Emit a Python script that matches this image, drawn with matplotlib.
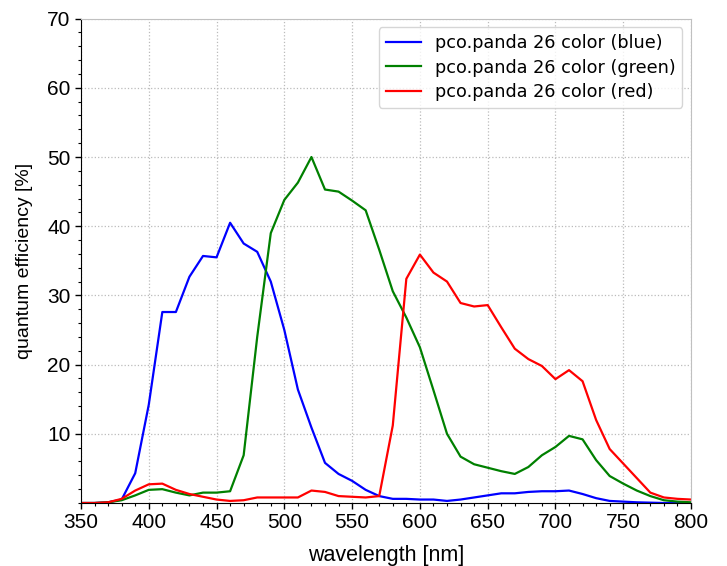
import numpy as np
import matplotlib
matplotlib.use("Agg")
import matplotlib.pyplot as plt
from matplotlib.ticker import MultipleLocator

# wavelength grid, 10 nm steps
wavelength = list(range(350, 801, 10))

# quantum efficiency [%]
qe_blue = [0, 0, 0.1, 0.5, 4.3, 14.2, 27.6, 27.6, 32.7, 35.7, 35.5, 40.5,
           37.5, 36.3, 32.0, 25.0, 16.4, 10.9, 5.8, 4.2, 3.2, 1.9, 1.0, 0.6,
           0.6, 0.5, 0.5, 0.3, 0.5, 0.8, 1.1, 1.4, 1.4, 1.6, 1.7, 1.7,
           1.8, 1.3, 0.7, 0.3, 0.2, 0.1, 0.05, 0, 0, 0]
qe_green = [0, 0, 0.1, 0.4, 1.1, 1.9, 2.0, 1.5, 1.1, 1.5, 1.5, 1.7,
            6.9, 24.0, 39.0, 43.8, 46.3, 50.0, 45.3, 45.0, 43.7, 42.3, 36.6, 30.6,
            26.8, 22.5, 16.3, 10.0, 6.7, 5.6, 5.1, 4.6, 4.2, 5.2, 6.9, 8.1,
            9.7, 9.2, 6.2, 3.9, 2.8, 1.8, 1.0, 0.4, 0.2, 0.1]
qe_red = [0, 0, 0.1, 0.6, 1.8, 2.7, 2.8, 1.9, 1.3, 0.9, 0.5, 0.3,
          0.4, 0.8, 0.8, 0.8, 0.8, 1.8, 1.6, 1.0, 0.9, 0.8, 1.0, 11.2,
          32.4, 35.9, 33.3, 32.0, 28.9, 28.4, 28.6, 25.4, 22.3, 20.8, 19.8, 17.9,
          19.2, 17.6, 12.0, 7.8, 5.7, 3.6, 1.5, 0.8, 0.6, 0.5]

labels = ["pco.panda 26 color (blue)", "pco.panda 26 color (green)", "pco.panda 26 color (red)"]

plt.rcParams['font.family'] = ['Liberation Sans', 'DejaVu Sans']

fig = plt.figure(figsize=(7.27, 5.66), dpi=100)
ax = fig.add_axes([0.1114, 0.1113, 0.8391, 0.8558])

ax.plot(wavelength, qe_blue, color="blue", lw=1.6, label=labels[0])
ax.plot(wavelength, qe_green, color="green", lw=1.6, label=labels[1])
ax.plot(wavelength, qe_red, color="red", lw=1.6, label=labels[2])

ax.set_xlim(350, 800)
ax.set_ylim(0, 70)
ax.set_xticks(range(350, 801, 50))
ax.set_yticks(range(10, 71, 10))
ax.xaxis.set_minor_locator(MultipleLocator(10))
ax.yaxis.set_minor_locator(MultipleLocator(2))
ax.tick_params(axis="both", which="major", labelsize=15, length=4, width=1)
ax.tick_params(axis="both", which="minor", length=2, width=0.8)

ax.grid(True, which="major", color="#bbbbbb", linestyle=":", linewidth=0.9)
for s in ["top", "right"]:
    ax.spines[s].set_color("#c0c0c0")
for s in ["left", "bottom"]:
    ax.spines[s].set_color("black")

ax.set_xlabel("wavelength [nm]", fontsize=15.5, labelpad=9)
ax.set_ylabel("quantum efficiency [%]", fontsize=14, labelpad=10)

leg = ax.legend(loc="upper right", prop={"family": "DejaVu Sans", "size": 12.7},
                labelspacing=0.35, handletextpad=0.75)

fig.savefig("out.png", dpi=100)
